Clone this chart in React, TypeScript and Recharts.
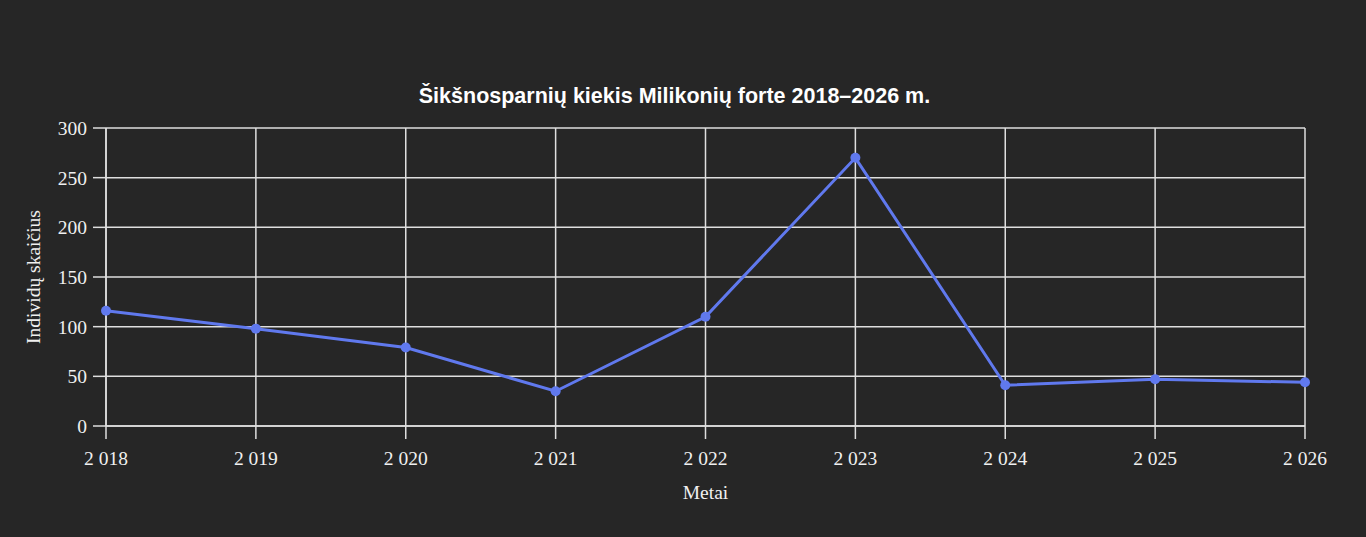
import React from "react";
import {
  LineChart,
  Line,
  XAxis,
  YAxis,
  CartesianGrid,
} from "recharts";

// Years and bat counts
const years = [2018, 2019, 2020, 2021, 2022, 2023, 2024, 2025, 2026];
const counts = [116, 98, 79, 35, 110, 270, 41, 47, 44];
const yTicks = [0, 50, 100, 150, 200, 250, 300];

const title = "Šikšnosparnių kiekis Milikonių forte 2018–2026 m.";

const data = years.map((year, i) => ({ year, count: counts[i] }));

// 2018 -> "2 018"
const formatYear = (v: number) => {
  const s = String(v);
  return s.slice(0, 1) + " " + s.slice(1);
};

const BG = "#262626";
const GRID = "#dedede";
const LINE = "#6079ee";
const TEXT = "#f0f0f0";

export default function App() {
  return (
    <div
      style={{
        position: "fixed",
        left: 0,
        top: 0,
        width: 1366,
        height: 537,
        background: BG,
        overflow: "hidden",
      }}
    >
      <div
        style={{
          position: "absolute",
          left: 0,
          top: 84,
          width: 1349,
          textAlign: "center",
          color: "#ffffff",
          fontFamily: "'Liberation Sans', Arial, sans-serif",
          fontWeight: "bold",
          fontSize: 21.5,
        }}
      >
        {title}
      </div>
      <LineChart
        width={1366}
        height={537}
        data={data}
        margin={{ top: 128, right: 61, left: 46, bottom: 51 }}
        style={{ position: "absolute", left: 0, top: 0 }}
      >
        <CartesianGrid stroke={GRID} strokeWidth={1.5} />
        <XAxis
          dataKey="year"
          height={60}
          tickFormatter={formatYear}
          tickSize={13}
          tickMargin={12}
          stroke={GRID}
          tick={{ fill: TEXT, fontFamily: "'Liberation Serif', serif", fontSize: 19.5 }}
          axisLine={{ stroke: GRID, strokeWidth: 1.5 }}
          tickLine={{ stroke: GRID, strokeWidth: 1.5 }}
          interval={0}
          label={{
            value: "Metai",
            position: "insideBottom",
            offset: -13,
            fill: TEXT,
            fontFamily: "'Liberation Serif', serif",
            fontSize: 19.5,
          }}
        />
        <YAxis
          width={60}
          domain={[0, 300]}
          ticks={yTicks}
          tickSize={13}
          tickMargin={6}
          stroke={GRID}
          tick={{ fill: TEXT, fontFamily: "'Liberation Serif', serif", fontSize: 19.5 }}
          axisLine={{ stroke: GRID, strokeWidth: 1.5 }}
          tickLine={{ stroke: GRID, strokeWidth: 1.5 }}
          label={{
            value: "Individų skaičius",
            angle: -90,
            position: "insideLeft",
            offset: -13,
            style: { textAnchor: "middle" },
            fill: TEXT,
            fontFamily: "'Liberation Serif', serif",
            fontSize: 19.5,
          }}
        />
        <Line
          type="linear"
          dataKey="count"
          stroke={LINE}
          strokeWidth={3}
          dot={{ r: 5, fill: LINE, stroke: LINE, strokeWidth: 0 }}
          activeDot={false}
          isAnimationActive={false}
        />
      </LineChart>
    </div>
  );
}
